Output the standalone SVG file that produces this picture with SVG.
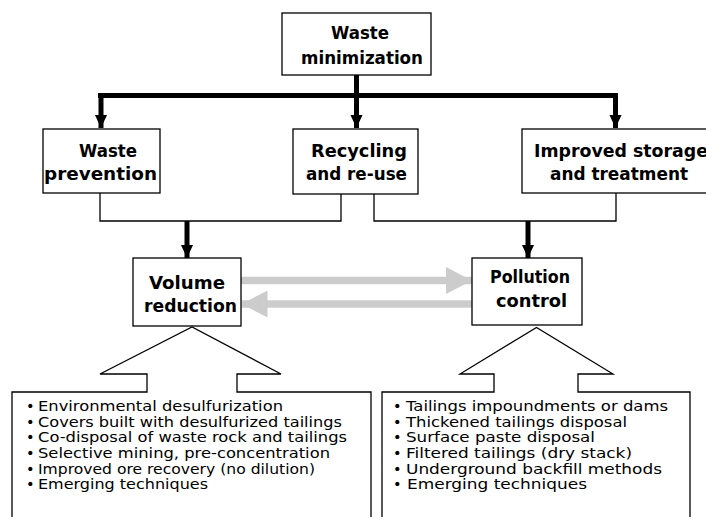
<svg xmlns="http://www.w3.org/2000/svg" width="706" height="517" viewBox="0 0 706 517">
<style>
.box{fill:#fff;stroke:#000;stroke-width:1.3}
.h{font-family:"DejaVu Sans","Liberation Sans",sans-serif;font-weight:bold;font-size:17px;fill:#000}
.l{font-family:"DejaVu Sans","Liberation Sans",sans-serif;font-size:14.5px;fill:#000}
.thin{fill:none;stroke:#000;stroke-width:1.3}
.thick{fill:none;stroke:#000;stroke-width:5}
.gray{fill:none;stroke:#cccccc;stroke-width:7.5}
</style>
<defs>
<marker id="ah" markerUnits="userSpaceOnUse" markerWidth="13" markerHeight="14" viewBox="0 0 14 13" refX="14" refY="6.5" orient="auto"><path d="M0,0 L14,6.5 L0,13 z" fill="#000"/></marker>
<marker id="gh" markerUnits="userSpaceOnUse" markerWidth="26" markerHeight="27" viewBox="0 0 26 27" refX="26" refY="13.5" orient="auto"><path d="M0,0 L26,13.5 L0,27 z" fill="#cccccc"/></marker>
</defs>
<g id="connectors">
<path class="thick" d="M356.5,75 V95.5 M98,95.5 H618"/>
<path class="thick" d="M101,95.5 V128" marker-end="url(#ah)"/>
<path class="thick" d="M356.5,95.5 V128" marker-end="url(#ah)"/>
<path class="thick" d="M615.5,95.5 V128" marker-end="url(#ah)"/>
<path class="thin" d="M100,193 V221 H341 V194"/>
<path class="thin" d="M374,194 V221 H616 V193"/>
<path class="thick" d="M187,221 V258" marker-end="url(#ah)"/>
<path class="thick" d="M528,221 V258" marker-end="url(#ah)"/>
<path class="gray" d="M241,280.5 H472" marker-end="url(#gh)"/>
<path class="gray" d="M472,304 H241.5" marker-end="url(#gh)"/>
</g>
<g id="waste-minimization">
<rect class="box" x="282" y="13" width="149" height="62"/>
<text class="h" x="331" y="39" textLength="58" lengthAdjust="spacingAndGlyphs">Waste</text>
<text class="h" x="301" y="64" textLength="122" lengthAdjust="spacingAndGlyphs">minimization</text>
</g>
<g id="waste-prevention">
<rect class="box" x="43" y="129" width="117" height="64"/>
<text class="h" x="79" y="157" textLength="58" lengthAdjust="spacingAndGlyphs">Waste</text>
<text class="h" x="44" y="180" textLength="113" lengthAdjust="spacingAndGlyphs">prevention</text>
</g>
<g id="recycling">
<rect class="box" x="293" y="129" width="125" height="65"/>
<text class="h" x="311" y="157" textLength="96" lengthAdjust="spacingAndGlyphs">Recycling</text>
<text class="h" x="306" y="180" textLength="101" lengthAdjust="spacingAndGlyphs">and re-use</text>
</g>
<g id="improved-storage">
<rect class="box" x="522" y="129" width="192" height="64"/>
<text class="h" x="534" y="157" textLength="174" lengthAdjust="spacingAndGlyphs">Improved storage</text>
<text class="h" x="550" y="180" textLength="138" lengthAdjust="spacingAndGlyphs">and treatment</text>
</g>
<g id="volume-reduction">
<rect class="box" x="133" y="258" width="108" height="68"/>
<text class="h" x="149" y="289" textLength="76" lengthAdjust="spacingAndGlyphs">Volume</text>
<text class="h" x="144" y="312" textLength="93" lengthAdjust="spacingAndGlyphs">reduction</text>
</g>
<g id="pollution-control">
<rect class="box" x="472" y="258" width="110" height="67"/>
<text class="h" x="490" y="283" textLength="80" lengthAdjust="spacingAndGlyphs">Pollution</text>
<text class="h" x="496" y="307" textLength="71" lengthAdjust="spacingAndGlyphs">control</text>
</g>
<g id="volume-methods">
<path class="box" d="M12,522 V392 H147 V374 H100 L192,327 L281,374 H237 V392 H371 V522"/>
<g class="l">
<text x="26" y="411">•<tspan x="38" textLength="245" lengthAdjust="spacingAndGlyphs">Environmental desulfurization</tspan></text>
<text x="26" y="427">•<tspan x="38" textLength="304" lengthAdjust="spacingAndGlyphs">Covers built with desulfurized tailings</tspan></text>
<text x="26" y="442">•<tspan x="38" textLength="309" lengthAdjust="spacingAndGlyphs">Co-disposal of waste rock and tailings</tspan></text>
<text x="26" y="458">•<tspan x="38" textLength="292" lengthAdjust="spacingAndGlyphs">Selective mining, pre-concentration</tspan></text>
<text x="26" y="474">•<tspan x="38" textLength="277" lengthAdjust="spacingAndGlyphs">Improved ore recovery (no dilution)</tspan></text>
<text x="26" y="489">•<tspan x="38" textLength="170" lengthAdjust="spacingAndGlyphs">Emerging techniques</tspan></text>
</g>
</g>
<g id="pollution-methods">
<path class="box" d="M382,522 V392 H494 V374 H460 L536.5,327.5 L613,374 H578 V392 H690 V522"/>
<g class="l">
<text x="393" y="411">•<tspan x="406" textLength="262" lengthAdjust="spacingAndGlyphs">Tailings impoundments or dams</tspan></text>
<text x="393" y="427">•<tspan x="406" textLength="221" lengthAdjust="spacingAndGlyphs">Thickened tailings disposal</tspan></text>
<text x="393" y="442">•<tspan x="406" textLength="189" lengthAdjust="spacingAndGlyphs">Surface paste disposal</tspan></text>
<text x="393" y="458">•<tspan x="406" textLength="226" lengthAdjust="spacingAndGlyphs">Filtered tailings (dry stack)</tspan></text>
<text x="393" y="474">•<tspan x="406" textLength="256" lengthAdjust="spacingAndGlyphs">Underground backfill methods</tspan></text>
<text x="393" y="489">•<tspan x="407" textLength="180" lengthAdjust="spacingAndGlyphs">Emerging techniques</tspan></text>
</g>
</g>
</svg>
